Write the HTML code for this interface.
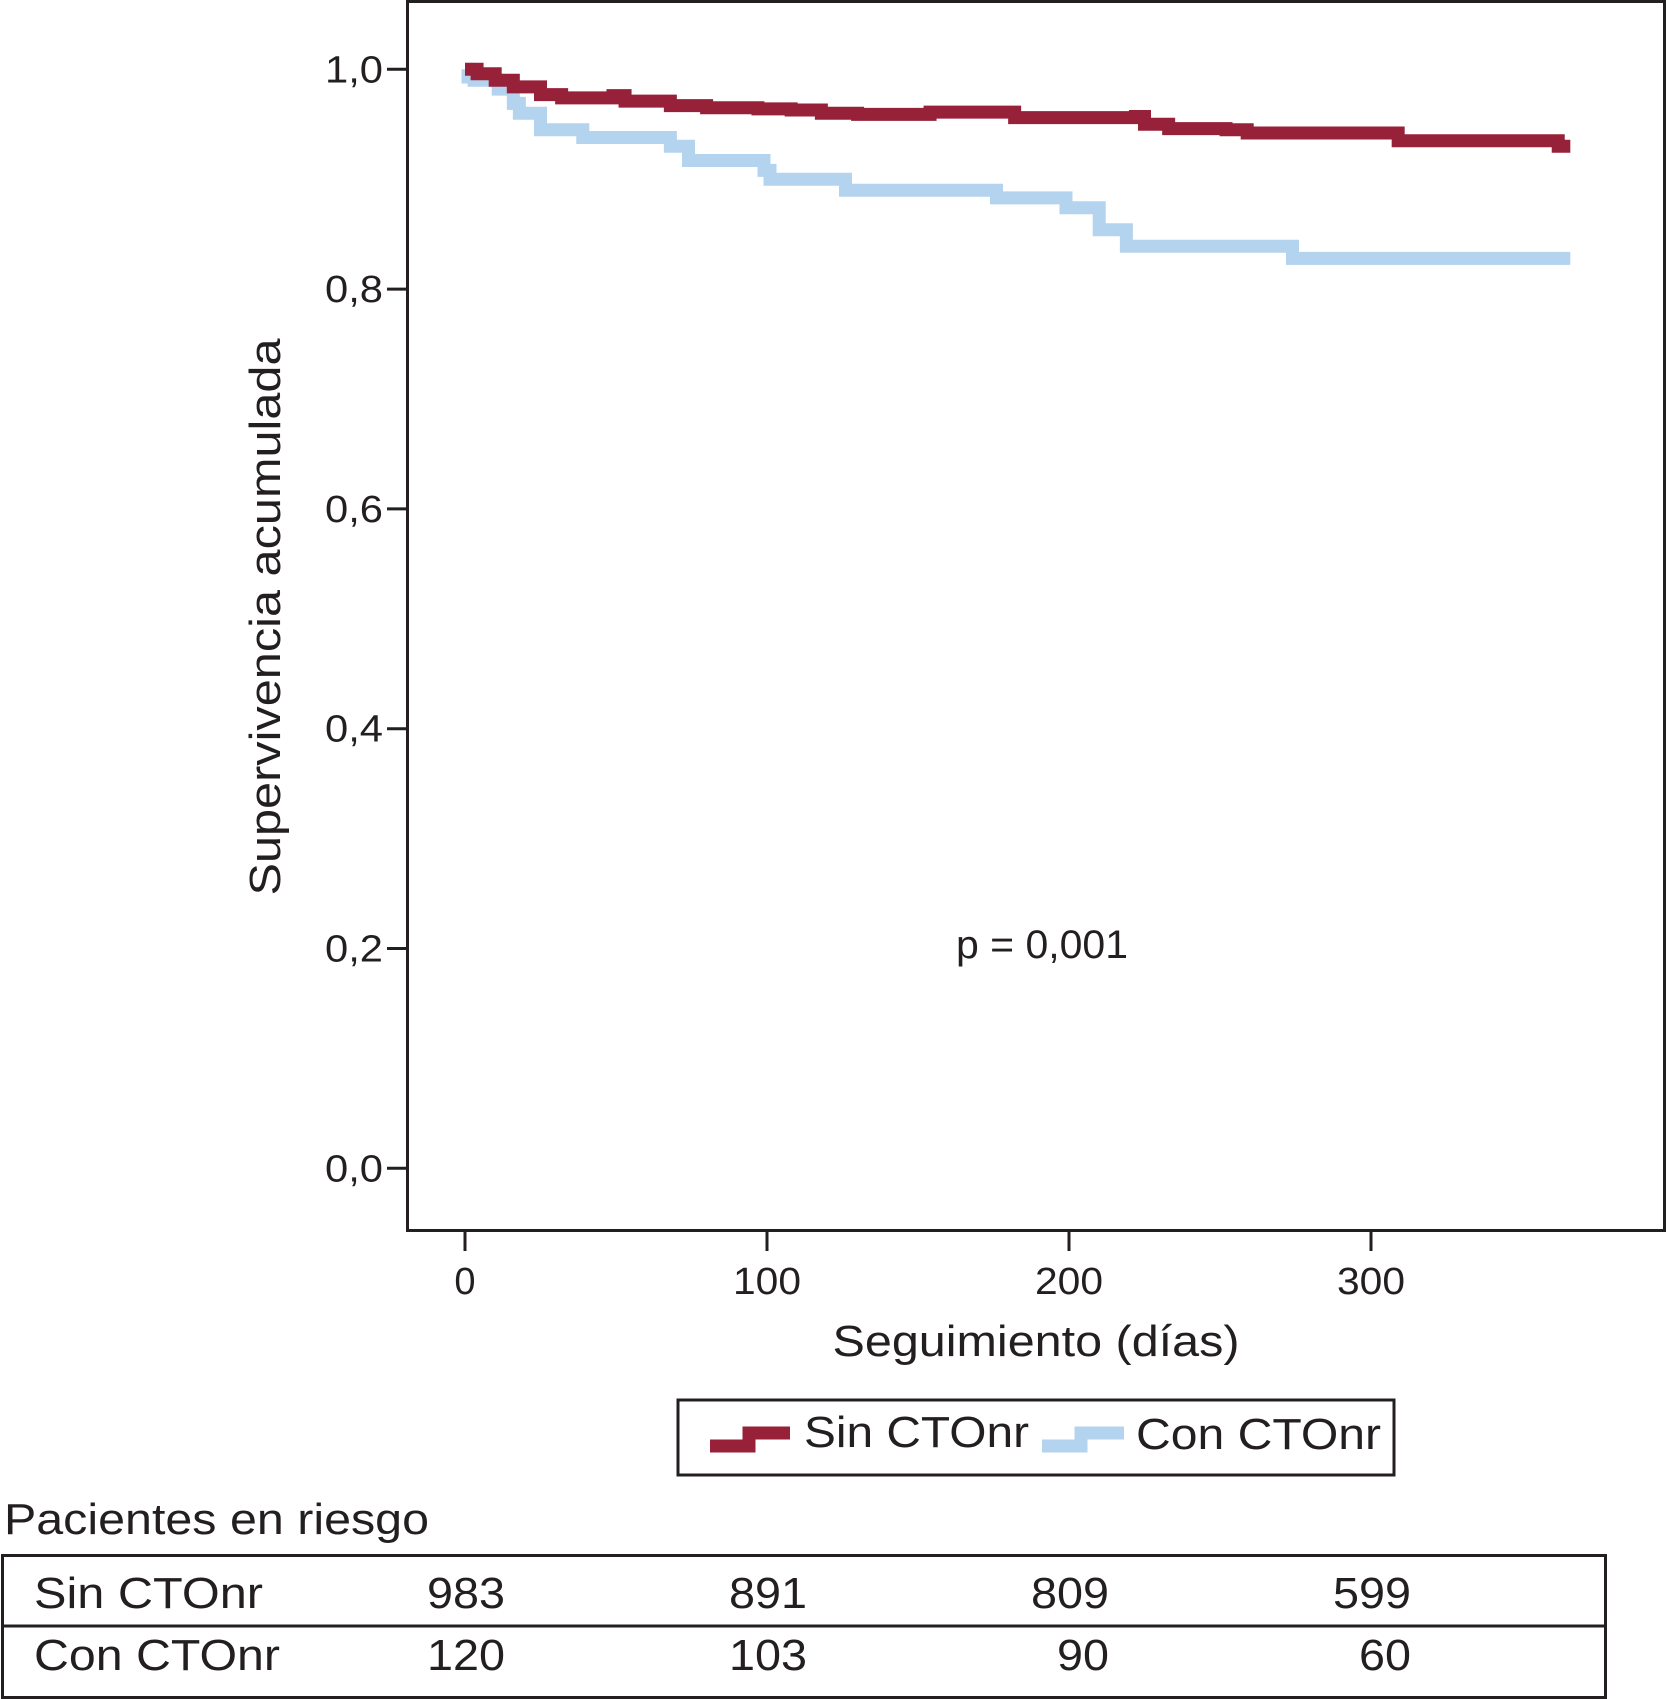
<!DOCTYPE html>
<html><head><meta charset="utf-8"><style>
html,body{margin:0;padding:0;background:#fff;}
svg{display:block;font-family:"Liberation Sans",Arial,sans-serif;}
</style></head><body>
<svg id="c" width="1668" height="1699" viewBox="0 0 1668 1699">
<rect x="407.5" y="1.5" width="1257" height="1229" fill="none" stroke="#231f20" stroke-width="3"/>
<g id="yaxis"></g>
<g id="xaxis"></g>
<g id="series"></g>
<text x="280" y="617" font-size="44" fill="#231f20" text-anchor="middle" textLength="557" lengthAdjust="spacingAndGlyphs" transform="rotate(-90 280 617)">Supervivencia acumulada</text>
<text x="1036" y="1356" font-size="44" fill="#231f20" text-anchor="middle" textLength="407" lengthAdjust="spacingAndGlyphs">Seguimiento (días)</text>
<text x="1042" y="958" font-size="40" fill="#231f20" text-anchor="middle" textLength="172" lengthAdjust="spacingAndGlyphs">p = 0,001</text>
<g>
<rect x="678" y="1400" width="716" height="75" fill="none" stroke="#231f20" stroke-width="3"/>
<path d="M710 1446 H749 V1433 H790" fill="none" stroke="#98213a" stroke-width="13"/>
<text x="804" y="1447" font-size="44" fill="#231f20" textLength="225" lengthAdjust="spacingAndGlyphs">Sin CTOnr</text>
<path d="M1042 1446 H1081 V1433 H1124" fill="none" stroke="#b3d3ee" stroke-width="13"/>
<text x="1136" y="1449" font-size="44" fill="#231f20" textLength="245" lengthAdjust="spacingAndGlyphs">Con CTOnr</text>
</g>
<text x="4" y="1534" font-size="44" fill="#231f20" textLength="425" lengthAdjust="spacingAndGlyphs">Pacientes en riesgo</text>
<g id="risk">
<rect x="2.5" y="1555.5" width="1603" height="142" fill="none" stroke="#231f20" stroke-width="3"/>
<line x1="2" y1="1626" x2="1606" y2="1626" stroke="#231f20" stroke-width="3"/>
</g>
</svg>
<script>
const yTicks=[0,0.2,0.4,0.6,0.8,1.0];
const yTickLabels=["0,0","0,2","0,4","0,6","0,8","1,0"];
const xTicks=[0,100,200,300];
const xTickLabels=["0","100","200","300"];
const sinTimes=[0,4,10,16,25,32,49,53,68,80,97,108,118,130,154,179,182,222,225,233,252,259,308,309,360,362,366];
const sinSurv=[1.0,0.996,0.99,0.984,0.977,0.974,0.976,0.971,0.967,0.965,0.964,0.963,0.960,0.959,0.961,0.961,0.956,0.957,0.950,0.946,0.945,0.942,0.942,0.935,0.935,0.930,0.930];
const conTimes=[0,1,3,11,16,18,25,39,68,74,99,101,126,176,199,210,219,274,366];
const conSurv=[1.0,0.993,0.99,0.982,0.969,0.96,0.945,0.938,0.930,0.917,0.908,0.900,0.890,0.883,0.874,0.854,0.839,0.828,0.828];
const riskGroups=["Sin CTOnr","Con CTOnr"];
const riskSin=["983","891","809","599"];
const riskCon=["120","103","90","60"];
const NS="http://www.w3.org/2000/svg";
const X=d=>465+d*3.02;
const Y=v=>1168.3-v*1099;
function mk(tag,attrs,parent,text){const e=document.createElementNS(NS,tag);for(const k in attrs)e.setAttribute(k,attrs[k]);if(text!==undefined)e.textContent=text;parent.appendChild(e);return e;}
const ya=document.getElementById('yaxis');
yTicks.forEach((v,i)=>{
 const l=mk('line',{x1:387,x2:407,y1:Y(v),y2:Y(v),stroke:'#231f20','stroke-width':3},ya);
 
 
 const t=mk('text',{x:383,y:Y(v)+13,'font-size':38,'text-anchor':'end',fill:'#231f20',textLength:58,lengthAdjust:'spacingAndGlyphs'},ya,yTickLabels[i]);
 
 
});
const xa=document.getElementById('xaxis');
xTicks.forEach((d,i)=>{
 const l=mk('line',{x1:X(d),x2:X(d),y1:1231,y2:1251,stroke:'#231f20','stroke-width':3},xa);
 
 
 const t=mk('text',{x:X(d),y:1294,'font-size':38,'text-anchor':'middle',fill:'#231f20'},xa,xTickLabels[i]);
 if(xTickLabels[i].length===3){t.setAttribute('textLength',68);t.setAttribute('lengthAdjust','spacingAndGlyphs');}
 
 
});
function step(ts,ss){let d='M'+X(ts[0])+' '+Y(ss[0]);for(let i=1;i<ts.length;i++){d+=' H'+X(ts[i])+' V'+Y(ss[i]);}return d;}
const sg=document.getElementById('series');
const pc=mk('path',{d:step(conTimes,conSurv),fill:'none',stroke:'#b3d3ee','stroke-width':13},sg);


const ps=mk('path',{d:step(sinTimes,sinSurv),fill:'none',stroke:'#98213a','stroke-width':13},sg);


const rk=document.getElementById('risk');
const labelLens=[229,246];
[riskSin,riskCon].forEach((row,r)=>{
 const yy=1608+r*62;
 const g=mk('text',{x:34,y:yy,'font-size':44,fill:'#231f20',textLength:labelLens[r],lengthAdjust:'spacingAndGlyphs'},rk,riskGroups[r]);
 
 
 row.forEach((v,i)=>{
  const t=mk('text',{x:X(xTicks[i])+40,y:yy,'font-size':44,'text-anchor':'end',fill:'#231f20',textLength:v.length*26,lengthAdjust:'spacingAndGlyphs'},rk,v);
  
  
 });
});
</script>
</body></html>
